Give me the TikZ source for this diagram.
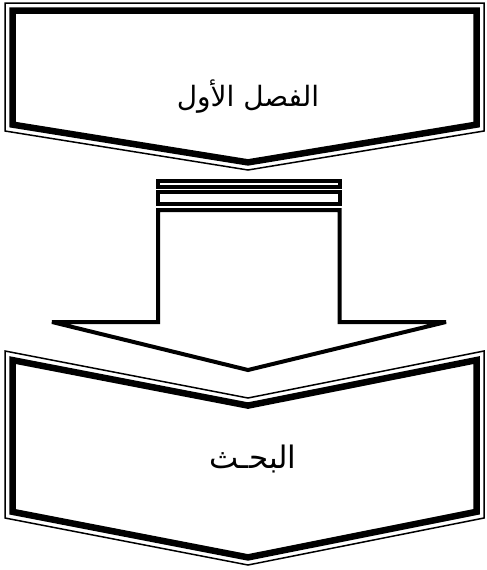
\documentclass[tikz,border=0pt]{standalone}
\usepackage{fontspec}
\newfontfamily\arabicfont[Script=Arabic]{DejaVu Sans}
\TeXXeTstate=1
\begin{document}
\begin{tikzpicture}[x=1pt,y=-1pt,
  thinline/.style={draw=black,line width=1.5pt,line join=miter},
  thickline/.style={draw=black,line width=6.5pt,line join=miter},
  arrowline/.style={draw=black,line width=4pt,line join=miter,miter limit=3},
  label/.style={font=\arabicfont\fontsize{28}{34}\selectfont,inner sep=0pt}]
\useasboundingbox (0,0) rectangle (487,570);
% top chevron box
\draw[thinline] (5,3) -- (484,3) -- (484,131) -- (248,170) -- (5,131) -- cycle;
\draw[thickline] (12.5,10.5) -- (476.5,10.5) -- (476.5,124.6) -- (248,162.4) -- (12.5,124.6) -- cycle;
\node[label] (t1) at (248,97) {\beginR الفصل الأول\endR};
% middle arrow
\draw[arrowline] (158,181) rectangle (339.5,186.5);
\draw[arrowline] (158,192) rectangle (339.5,203.5);
\draw[arrowline] (158,210) -- (339.5,210) -- (339.5,322) -- (446,322) -- (248,370) -- (52,322) -- (158,322) -- cycle;
% bottom chevron box
\draw[thinline] (5,351) -- (248,398) -- (484,351) -- (484,518) -- (248,565) -- (5,518) -- cycle;
\draw[thickline] (12.5,360.1) -- (248,405.6) -- (476.5,360.1) -- (476.5,511.8) -- (248,557.4) -- (12.5,511.8) -- cycle;
\node[label,font=\arabicfont\fontsize{31}{36}\selectfont] (t2) at (253,459) {\beginR البحـث\endR};
\end{tikzpicture}
\end{document}
